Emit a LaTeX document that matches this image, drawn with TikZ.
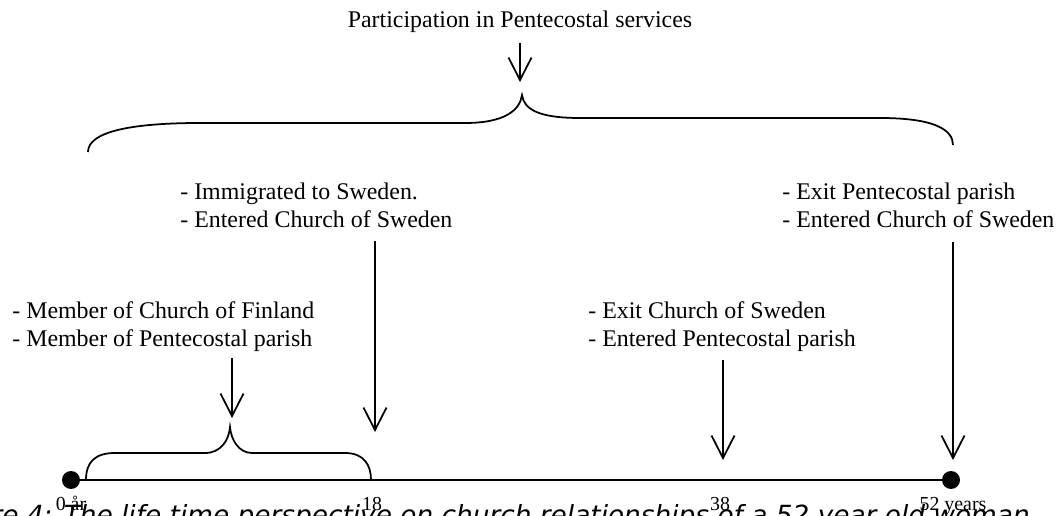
\documentclass[tikz,border=0pt]{standalone}
\usepackage{fontspec}
\setmainfont{Liberation Serif}
\newfontfamily\capfont{DejaVu Sans}
\usepackage{tikz}
\usetikzlibrary{positioning, calc, arrows.meta}

\begin{document}
\begin{tikzpicture}[
        x={(0.02cm,0)}, y={(0,-0.02cm)},
        event/.style={inner sep=0pt, align=left, anchor=north west, font=\fontsize{13.6}{15.9}\selectfont},
        heading/.style={inner sep=0pt, anchor=base, font=\fontsize{13.6}{15.9}\selectfont},
        tick/.style={inner sep=0pt, anchor=base, font=\fontsize{11.3}{13}\selectfont},
        dot/.style={circle, fill=black, inner sep=0pt, minimum size=0.36cm},
        arrow/.style={-{Straight Barb[length=0.45cm, width=0.46cm]}, line width=1pt, draw=black},
        brace/.style={line width=1pt, draw=black},
        axis/.style={line width=1pt, draw=black}
    ]
        \useasboundingbox (0,0) rectangle (1058,516);
        \clip (0,0) rectangle (1058,516);

        % --- TIME AXIS ---
        \node[dot] (start) at (71,480) {};
        \node[dot] (end) at (951,480) {};
        \draw[axis] (start) -- (end);

        \node[tick] (t0) at (71,511) {0 år};
        \node[tick] (t18) at (372,511) {18};
        \node[tick] (t38) at (720,511) {38};
        \node[tick] (t52) at (953,511) {52 years};

        % --- BRACES ---
        \coordinate (bigtip) at (522,95);
        \draw[brace] (88,152) .. controls (88,132) and (130,123) .. (200,123) -- (465,123)
            .. controls (505,123) and (520,110) .. (bigtip)
            .. controls (524,110) and (540,118) .. (580,118) -- (880,118)
            .. controls (935,118) and (953,130) .. (953,145);

        \coordinate (smalltip) at (230,427);
        \draw[brace] (86,480) .. controls (86,462) and (95,453) .. (115,453) -- (205,453)
            .. controls (221,453) and (229,440) .. (smalltip)
            .. controls (231,440) and (239,453) .. (252,453) -- (345,453)
            .. controls (364,453) and (371,465) .. (371,480);

        % --- TEXT LABELS ---
        \node[heading] (services) at (520,28) {Participation in Pentecostal services};
        \node[event] (immigrated) at (180,182.6) {- Immigrated to Sweden.\\- Entered Church of Sweden};
        \node[event] (exitparish) at (782,182.6) {- Exit Pentecostal parish\\- Entered Church of Sweden};
        \node[event] (member) at (12,301.6) {- Member of Church of Finland\\- Member of Pentecostal parish};
        \node[event] (exitchurch) at (588,301.6) {- Exit Church of Sweden\\- Entered Pentecostal parish};

        % --- ARROW TIPS ---
        \coordinate (tiptop) at (520,82);
        \coordinate (tipsmall) at (232,418);
        \coordinate (tip18) at (375,432);
        \coordinate (tip38) at (723,460);
        \coordinate (tip52) at (953,460);

        % --- ARROWS ---
        \draw[arrow, shorten <=0.2cm] (services.south -| tiptop) -- (tiptop);
        \draw[arrow, shorten <=0.12cm] (member.south -| tipsmall) -- (tipsmall);
        \draw[arrow, shorten <=0.26cm] (immigrated.south -| tip18) -- (tip18);
        \draw[arrow, shorten <=0.16cm] (exitchurch.south -| tip38) -- (tip38);
        \draw[arrow, shorten <=0.28cm] (exitparish.south -| tip52) -- (tip52);

        % caption, cut off at the lower edge
        \node[inner sep=0pt, anchor=base east, font=\capfont\itshape\fontsize{15}{17}\selectfont] (caption) at (1030,524.5) {Figure 4: The life time perspective on church relationships of a 52 year old woman};
    \end{tikzpicture}
\end{document}
